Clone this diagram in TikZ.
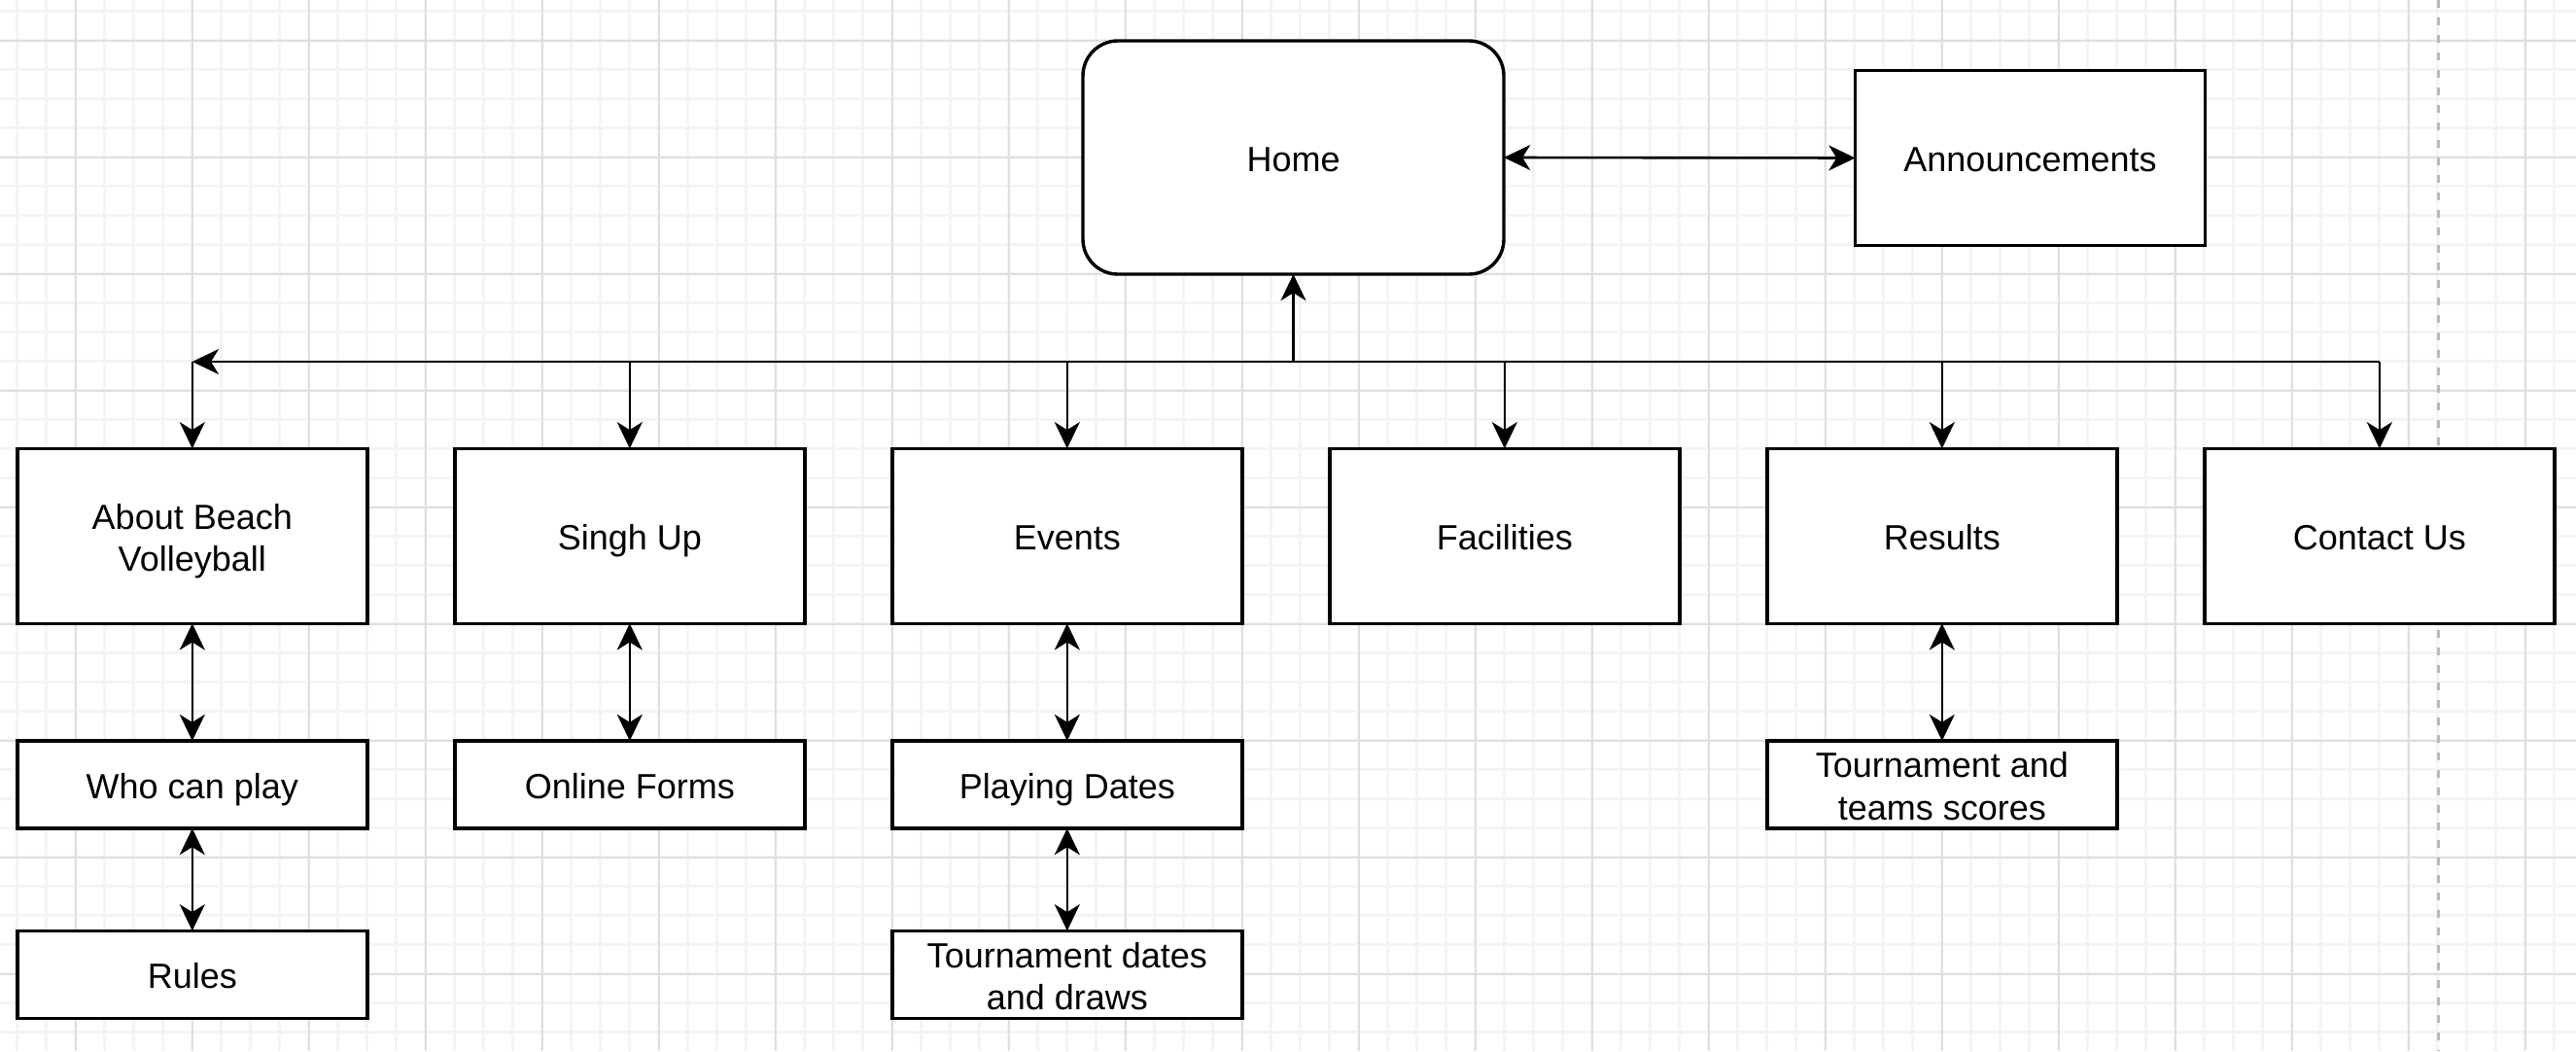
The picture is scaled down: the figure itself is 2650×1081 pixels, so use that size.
\documentclass[tikz,border=0pt]{standalone}
\usepackage{fontspec}
\setmainfont{Liberation Sans}
\usetikzlibrary{arrows.meta}
\newcommand{\twolines}[2]{\begin{tabular}[t]{@{}c@{}}#1\\#2\end{tabular}}
\begin{document}
\begin{tikzpicture}[x=0.25pt,y=-0.25pt,
  >={Stealth[length=6.8pt,width=6.5pt,inset=2pt]},
  box/.style={draw, line width=0.85pt, fill=white, minimum width=90pt, minimum height=45pt,
    inner sep=1pt, outer sep=0pt, font=\fontsize{9}{10.8}\selectfont,
    text height=7.2pt, text depth=0pt},
  twoline/.style={text height=0pt, text depth=3.6pt},
  smallbox/.style={box, minimum height=22.5pt},
  conn/.style={line width=0.65pt, draw=black},
  minorgrid/.style={draw=gray!9, line width=0.7pt},
  majorgrid/.style={draw=gray!25, line width=0.55pt},
]
\useasboundingbox (0,0) rectangle (2650,1081);
\fill[white] (0,0) rectangle (2650,1081);
\begin{scope}
\clip (0,0) rectangle (2650,1081);
\foreach \i in {0,...,87} {\draw[minorgrid] ({17.7+30*\i},0) -- ({17.7+30*\i},1081);}
\foreach \i in {0,...,35} {\draw[minorgrid] (0,{11.7+30*\i}) -- (2650,{11.7+30*\i});}
\foreach \i in {0,...,21} {\draw[majorgrid] ({77.7+120*\i},0) -- ({77.7+120*\i},1081);}
\foreach \i in {0,...,8} {\draw[majorgrid] (0,{41.7+120*\i}) -- (2650,{41.7+120*\i});}
\draw[draw=gray!55, line width=0.75pt, dash pattern=on 2pt off 2.5pt] (2508.3,0) -- (2508.3,1081);
\end{scope}

% nodes
\node[box, minimum width=108.25pt, minimum height=60pt, rounded corners=9pt] (home) at (1330.5,162) {Home};
\node[box] (ann) at (2088.5,162.5) {Announcements};

\node[box, twoline] (about) at (197.8,551.3) {\twolines{About Beach}{Volleyball}};
\node[box] (signup) at (647.8,551.3) {Singh Up};
\node[box] (events) at (1097.8,551.3) {Events};
\node[box] (facil) at (1547.8,551.3) {Facilities};
\node[box] (results) at (1997.8,551.3) {Results};
\node[box] (contact) at (2447.8,551.3) {Contact Us};

\node[smallbox] (who) at (197.8,807) {Who can play};
\node[smallbox] (forms) at (647.8,807) {Online Forms};
\node[smallbox] (dates) at (1097.8,807) {Playing Dates};
\node[smallbox, twoline] (scores) at (1997.8,807) {\twolines{Tournament and}{teams scores}};

\node[smallbox] (rules) at (197.8,1002.3) {Rules};
\node[smallbox, twoline] (draws) at (1097.8,1002.3) {\twolines{Tournament dates}{and draws}};

% connectors
\draw[conn,<->] (home.east) -- (ann.west);

\coordinate (busL) at (197.8,372);
\coordinate (busR) at (2447.8,372);
\coordinate (busM) at (home.south |- busL);
\draw[conn,->] (busM) -- (home.south);
\draw[conn,->] (busR) -- (busL);
\foreach \n in {about,signup,events,facil,results,contact}
  {\draw[conn,->] (\n.north |- busL) -- (\n.north);}

\draw[conn,<->] (about.south) -- (who.north);
\draw[conn,<->] (who.south) -- (rules.north);
\draw[conn,<->] (signup.south) -- (forms.north);
\draw[conn,<->] (events.south) -- (dates.north);
\draw[conn,<->] (dates.south) -- (draws.north);
\draw[conn,<->] (results.south) -- (scores.north);
\end{tikzpicture}
\end{document}
